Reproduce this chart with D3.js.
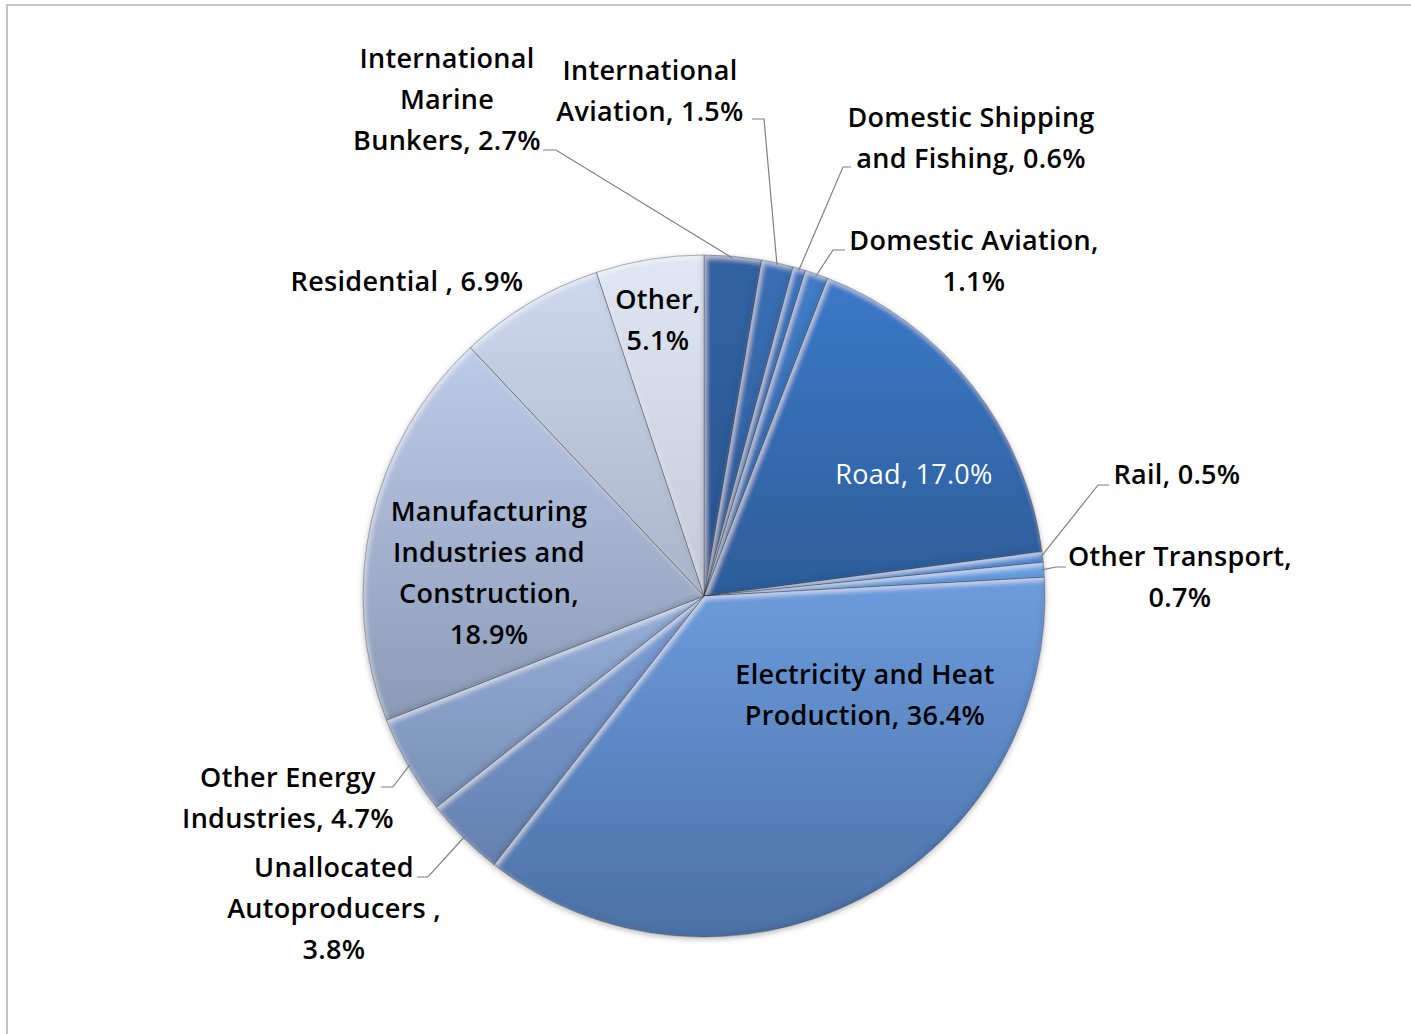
<!DOCTYPE html>
<html>
<head>
<meta charset="utf-8">
<script src="https://cdn.jsdelivr.net/npm/d3@7"></script>
<style>
  html, body { margin: 0; padding: 0; background: #fff; }
  svg { display: block; }
  .lbl { font-family: "Open Sans", Lato, sans-serif; font-size: 27px; font-weight: 600; letter-spacing: 0.3px; fill: #000; }
  .lbl-in-dark { fill: #fff; font-weight: 400; }
</style>
</head>
<body>
<svg id="chart" width="1411" height="1034"></svg>
<script>
// CO2 emissions by sector, share of total (%)
const sectors = [
  "International Marine Bunkers",
  "International Aviation",
  "Domestic Shipping and Fishing",
  "Domestic Aviation",
  "Road",
  "Rail",
  "Other Transport",
  "Electricity and Heat Production",
  "Unallocated Autoproducers",
  "Other Energy Industries",
  "Manufacturing Industries and Construction",
  "Residential",
  "Other"
];
const shares = [2.7, 1.5, 0.6, 1.1, 17.0, 0.5, 0.7, 36.4, 3.8, 4.7, 18.9, 6.9, 5.1];

// label text lines for each sector ({v} is the value)
const labelLines = [
  ["International", "Marine", "Bunkers, {v}"],
  ["International", "Aviation, {v}"],
  ["Domestic Shipping", "and Fishing, {v}"],
  ["Domestic Aviation,", "{v}"],
  ["Road, {v}"],
  ["Rail, {v}"],
  ["Other Transport,", "{v}"],
  ["Electricity and Heat", "Production, {v}"],
  ["Unallocated", "Autoproducers ,", "{v}"],
  ["Other Energy", "Industries, {v}"],
  ["Manufacturing", "Industries and", "Construction,", "{v}"],
  ["Residential , {v}"],
  ["Other,", "{v}"]
];

// each slice is shaded from a lighter top to a darker bottom
const colorTop = ["#3263a3", "#3a6fb5", "#3f78c2", "#417dc8", "#3b79c8", "#5590da", "#6ea5e6",
                  "#6c9cdd", "#7f9fd6", "#96afd8", "#bccbe9", "#cdd8ee", "#e0e6f2"];
const colorBottom = ["#2a5590", "#2f5c98", "#33629f", "#3466a5", "#2e5d9a", "#4a82c8", "#5e96d8",
                     "#4c71a5", "#6581b0", "#7a90b6", "#8b9ab5", "#a9b4ca", "#c3c9d8"];

const W = 1411, H = 1034;
const cx = 704, cy = 596, R = 341;

// label anchors: text centre x, first-line centre y, and leader tick
const labelLayout = [
  { x: 447, y: 57,  leader: [[543, 150], [556, 150]] },
  { x: 650, y: 69,  leader: [[752, 119], [764, 119]] },
  { x: 971, y: 116, leader: [[851, 167], [843, 167]] },
  { x: 974, y: 239, leader: [[845, 250], [833, 250]] },
  { x: 914, y: 473 },
  { x: 1177, y: 473, leader: [[1109, 485], [1098, 485]] },
  { x: 1180, y: 555, leader: [[1066, 567], [1056, 567]] },
  { x: 865, y: 673 },
  { x: 334, y: 866, leader: [[417, 877], [428, 877]] },
  { x: 288, y: 776, leader: [[381, 787], [393, 787]] },
  { x: 489, y: 510 },
  { x: 407, y: 280 },
  { x: 658, y: 298 }
];
const lineGap = 41;

const svg = d3.select("#chart");
const defs = svg.append("defs");

// frame
svg.append("path")
  .attr("d", `M7,${H} L7,5 L${W},5`)
  .attr("fill", "none").attr("stroke", "#c4c4c4").attr("stroke-width", 2);

// soft bevel: light top-left edges, dark bottom-right edges
const bevel = defs.append("filter").attr("id", "bevel")
  .attr("x", "-5%").attr("y", "-5%").attr("width", "110%").attr("height", "110%");
bevel.append("feGaussianBlur").attr("in", "SourceAlpha").attr("stdDeviation", 2.5).attr("result", "blur");
bevel.append("feOffset").attr("in", "blur").attr("dx", 2).attr("dy", 2.5).attr("result", "blurDR");
bevel.append("feComposite").attr("in", "SourceAlpha").attr("in2", "blurDR")
  .attr("operator", "arithmetic").attr("k2", 1).attr("k3", -1).attr("result", "hiMask");
bevel.append("feFlood").attr("flood-color", "#ffffff").attr("flood-opacity", 0.55).attr("result", "white");
bevel.append("feComposite").attr("in", "white").attr("in2", "hiMask").attr("operator", "in").attr("result", "hi");
bevel.append("feOffset").attr("in", "blur").attr("dx", -2).attr("dy", -2.5).attr("result", "blurUL");
bevel.append("feComposite").attr("in", "SourceAlpha").attr("in2", "blurUL")
  .attr("operator", "arithmetic").attr("k2", 1).attr("k3", -1).attr("result", "loMask");
bevel.append("feFlood").attr("flood-color", "#000000").attr("flood-opacity", 0.25).attr("result", "black");
bevel.append("feComposite").attr("in", "black").attr("in2", "loMask").attr("operator", "in").attr("result", "lo");
const merge = bevel.append("feMerge").attr("result", "merged");
merge.append("feMergeNode").attr("in", "SourceGraphic");
merge.append("feMergeNode").attr("in", "hi");
merge.append("feMergeNode").attr("in", "lo");
bevel.append("feComposite").attr("in", "merged").attr("in2", "SourceAlpha").attr("operator", "in");

// drop shadow around the pie
const shadow = defs.append("filter").attr("id", "shadow")
  .attr("x", "-10%").attr("y", "-10%").attr("width", "120%").attr("height", "120%");
shadow.append("feGaussianBlur").attr("in", "SourceAlpha").attr("stdDeviation", 3).attr("result", "b");
shadow.append("feOffset").attr("in", "b").attr("dy", 2).attr("result", "o");
shadow.append("feComponentTransfer").attr("in", "o")
  .append("feFuncA").attr("type", "linear").attr("slope", 0.3);

const pie = d3.pie().sort(null).value(d => d)
  .startAngle(0).endAngle(2 * Math.PI);
const arcs = pie(shares);
const arc = d3.arc().innerRadius(0).outerRadius(R);

// per-slice vertical gradients
arcs.forEach((d, i) => {
  const lg = defs.append("linearGradient").attr("id", "grad" + i)
    .attr("x1", 0).attr("y1", 0).attr("x2", 0).attr("y2", 1);
  lg.append("stop").attr("offset", "0%").attr("stop-color", colorTop[i]);
  lg.append("stop").attr("offset", "100%").attr("stop-color", colorBottom[i]);
});

const g = svg.append("g").attr("transform", `translate(${cx},${cy})`);

// shadow disc
g.append("circle").attr("r", R).attr("fill", "#666").attr("filter", "url(#shadow)");

const slices = g.selectAll("g.slice").data(arcs).enter().append("g").attr("class", "slice");
slices.append("path")
  .attr("d", arc)
  .attr("fill", (d, i) => `url(#grad${i})`)
  .attr("filter", "url(#bevel)");

// slice separators
slices.append("path")
  .attr("d", arc)
  .attr("fill", "none")
  .attr("stroke", "rgba(40,50,70,0.35)")
  .attr("stroke-width", 1);

// leader lines: from label tick to the slice rim
const leaderG = svg.append("g");
arcs.forEach((d, i) => {
  const L = labelLayout[i];
  if (!L.leader) return;
  const mid = (d.startAngle + d.endAngle) / 2;
  const rx = cx + Math.sin(mid) * (R - 2);
  const ry = cy - Math.cos(mid) * (R - 2);
  const pts = L.leader.concat([[rx, ry]]);
  leaderG.append("path")
    .attr("d", d3.line()(pts))
    .attr("fill", "none")
    .attr("stroke", "#7f7f7f")
    .attr("stroke-width", 1.2);
});

// labels
const labelG = svg.append("g");
arcs.forEach((d, i) => {
  const L = labelLayout[i];
  const t = labelG.append("text")
    .attr("class", "lbl" + (sectors[i] === "Road" ? " lbl-in-dark" : ""))
    .attr("text-anchor", "middle")
    .attr("dominant-baseline", "central");
  labelLines[i].forEach((ln, k) => {
    t.append("tspan")
      .attr("x", L.x)
      .attr("y", L.y + k * lineGap)
      .text(ln.replace("{v}", d.data.toFixed(1) + "%"));
  });
});
</script>
</body>
</html>
